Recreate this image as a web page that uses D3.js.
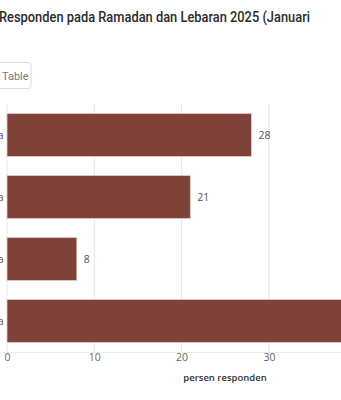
<!DOCTYPE html>
<html><head><meta charset="utf-8">
<script src="https://cdn.jsdelivr.net/npm/d3@7"></script>
<style>
html,body{margin:0;padding:0;background:#fff;overflow:hidden;}
svg{display:block;}
</style></head>
<body>
<svg id="chart" width="341" height="400"></svg>
<script>
const categories = ["Lebih banyak dari biasanya", "Sama seperti biasanya", "Lebih sedikit dari biasanya", "Tidak ada rencana"];
const values = [28, 21, 8, 43];
const tickValues = [0, 10, 20, 30, 40];
const titleText = "Responden pada Ramadan dan Lebaran 2025 (Januari";
const axisTitle = "persen responden";

const svg = d3.select("#chart");
const W = 341, H = 400;

// title
svg.append("text").attr("x", -1).attr("y", 22)
  .attr("font-family", "Roboto, sans-serif").attr("font-weight", 500)
  .attr("font-size", 14).attr("fill", "#2b2b2b")
  .attr("textLength", 311).attr("lengthAdjust", "spacingAndGlyphs")
  .text(titleText);

// Table button
svg.append("rect").attr("x", -6).attr("y", 62.5).attr("width", 37).attr("height", 26)
  .attr("rx", 3).attr("fill", "#fff").attr("stroke", "#dcdcdc");
svg.append("text").attr("x", 2).attr("y", 79.5)
  .attr("font-family", "Roboto, sans-serif").attr("font-size", 11).attr("fill", "#777").text("Table");

const x = d3.scaleLinear().domain([0, 10]).range([7, 94.3]);
const y = d3.scaleBand().domain(categories).range([104, 352]).paddingInner(0.306).paddingOuter(0.153);

// gridlines
svg.append("g").selectAll("line").data(tickValues).join("line")
  .attr("x1", d => x(d)).attr("x2", d => x(d))
  .attr("y1", 104).attr("y2", 352)
  .attr("stroke", "#e6e6e6").attr("stroke-width", 1);

// baseline
svg.append("line").attr("x1", 0).attr("x2", W).attr("y1", 352.5).attr("y2", 352.5)
  .attr("stroke", "#ececec");

// bars
svg.append("g").selectAll("rect").data(values).join("rect")
  .attr("x", x(0)).attr("y", (d, i) => y(categories[i]))
  .attr("width", d => x(d) - x(0)).attr("height", y.bandwidth())
  .attr("fill", "#7e4238").attr("stroke", "#e8cfc8").attr("stroke-width", 0.8);

// value labels
svg.append("g").selectAll("text").data(values).join("text")
  .attr("x", d => x(d) + 7).attr("y", (d, i) => y(categories[i]) + y.bandwidth() / 2)
  .attr("dy", "0.35em").attr("font-family", "Open Sans, sans-serif").attr("font-size", 10.5)
  .attr("fill", "#555").text(d => d);

// category labels (clipped at left, as in the reference)
svg.append("g").selectAll("text").data(categories).join("text")
  .attr("x", 3.5).attr("y", d => y(d) + y.bandwidth() / 2)
  .attr("dy", "0.35em").attr("text-anchor", "end")
  .attr("font-family", "Open Sans, sans-serif").attr("font-size", 10.5)
  .attr("fill", "#555").text(d => d);

// x axis
const axis = d3.axisBottom(x).tickValues(tickValues).tickSize(0).tickPadding(0);
const gx = svg.append("g").attr("transform", "translate(0,354)").call(axis);
gx.select(".domain").remove();
gx.selectAll("text").attr("dy", "0.71em").attr("y", 0)
  .attr("font-family", "Open Sans, sans-serif").attr("font-size", 10.5).attr("fill", "#666");

svg.append("text").attr("x", 225).attr("y", 381).attr("text-anchor", "middle")
  .attr("font-family", "Open Sans, sans-serif").attr("font-weight", 600)
  .attr("font-size", 9.5).attr("fill", "#333").text(axisTitle);
</script>
</body></html>
